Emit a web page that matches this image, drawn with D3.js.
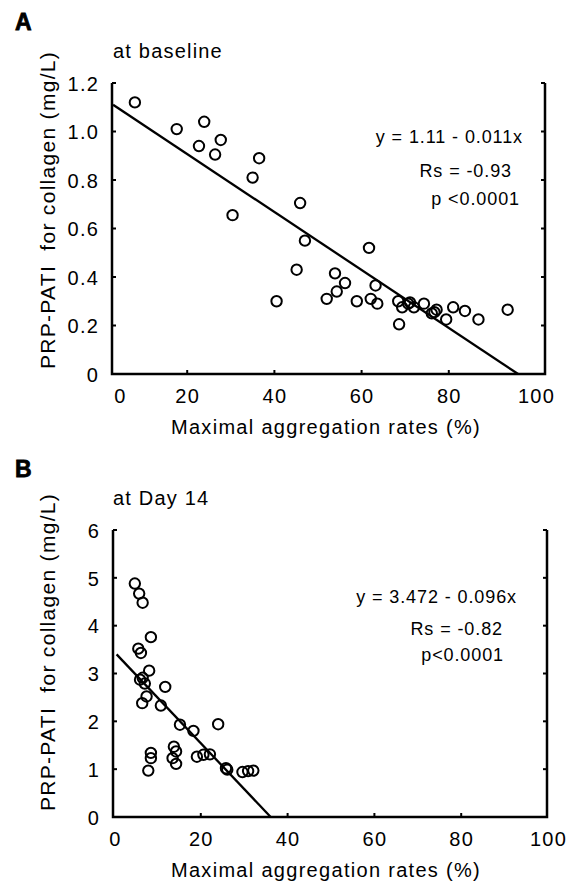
<!DOCTYPE html>
<html>
<head>
<meta charset="utf-8">
<script src="https://cdn.jsdelivr.net/npm/d3@7"></script>
<style>
  body { margin: 0; background: #fff; }
  svg { display: block; }
  text { font-family: "Liberation Sans", Arial, Helvetica, sans-serif; fill: #000; }
</style>
</head>
<body>
<script>
// values: [maximal aggregation rate (%), PRP-PATI (mg/L)]
const baselinePoints = [
  [8.0, 1.12], [17.6, 1.01], [23.9, 1.04], [22.7, 0.94], [27.7, 0.965],
  [26.4, 0.905], [36.5, 0.89], [35.0, 0.81], [30.4, 0.655], [45.9, 0.705],
  [47.0, 0.55], [45.1, 0.43], [40.5, 0.3], [61.7, 0.52], [53.9, 0.415],
  [56.2, 0.375], [54.3, 0.34], [52.0, 0.31], [58.9, 0.3], [63.2, 0.365],
  [62.1, 0.31], [63.6, 0.29], [68.4, 0.3], [69.3, 0.275], [68.6, 0.205],
  [70.7, 0.29], [71.1, 0.295], [72.0, 0.275], [74.3, 0.29], [76.1, 0.25],
  [76.7, 0.255], [77.2, 0.265], [79.4, 0.225], [81.0, 0.275], [83.7, 0.26],
  [86.8, 0.225], [93.5, 0.265]
];
const day14Points = [
  [4.8, 4.88], [5.8, 4.67], [6.6, 4.48], [8.5, 3.76], [5.6, 3.52],
  [6.2, 3.43], [8.1, 3.06], [6.6, 2.91], [6.0, 2.87], [7.1, 2.79],
  [7.5, 2.52], [6.5, 2.38], [11.8, 2.72], [10.8, 2.33], [15.2, 1.93],
  [18.3, 1.8], [24.0, 1.94], [8.5, 1.34], [8.5, 1.23], [7.9, 0.97],
  [13.8, 1.47], [14.3, 1.37], [13.5, 1.23], [14.3, 1.11], [19.1, 1.26],
  [20.6, 1.3], [22.1, 1.31], [25.8, 1.02], [26.1, 0.99], [29.6, 0.94],
  [30.9, 0.96], [32.1, 0.97]
];
// fitted lines, drawn between the end points seen on the figure
const baselineFit = [[3.0, 1.11], [95.9, 0]];
const day14Fit = [[0.6, 3.4], [36.1, 0]];

const xTicks = [0, 20, 40, 60, 80, 100];
const baselineYTicks = [0, 0.2, 0.4, 0.6, 0.8, 1.0, 1.2];
const day14YTicks = [0, 1, 2, 3, 4, 5, 6];

const baselineStats = ["y = 1.11 - 0.011x", "Rs = -0.93", "p <0.0001"];
const day14Stats = ["y = 3.472 - 0.096x", "Rs = -0.82", "p<0.0001"];

const xTitle = "Maximal aggregation rates (%)";
const yTitle = "PRP-PATI  for collagen (mg/L)";

const width = 572;
const height = 883;

const svg = d3
  .select("body")
  .append("svg")
  .attr("width", width)
  .attr("height", height);

const drawPanel = (cfg) => {
  const x = d3.scaleLinear().domain([0, 100]).range(cfg.xRange);
  const y = d3.scaleLinear().domain(cfg.yDomain).range(cfg.yRange);
  const g = svg.append("g");

  // panel letter and subtitle
  g.append("text")
    .attr("x", 15)
    .attr("y", cfg.letterY)
    .attr("font-size", 23)
    .attr("font-weight", 900)
    .style("stroke", "#000")
    .style("stroke-width", 0.8)
    .text(cfg.letter);

  g.append("text")
    .attr("x", 113)
    .attr("y", cfg.subtitleY)
    .attr("font-size", 20)
    .style("letter-spacing", "1.2px")
    .text(cfg.subtitle);

  // frame: left, bottom, right (open at top)
  const [y0, y1] = cfg.yRange;
  g.append("path")
    .attr("d", `M${cfg.left},${y1} V${y0} H${cfg.right} V${y1}`)
    .attr("fill", "none")
    .attr("stroke", "#000")
    .attr("stroke-width", 2.5);

  // inward tick marks
  const yTickVals = cfg.yTicks;
  g.append("g")
    .selectAll("line")
    .data(yTickVals)
    .enter()
    .append("line")
    .attr("x1", cfg.left)
    .attr("x2", cfg.left + 4)
    .attr("y1", (d) => y(d))
    .attr("y2", (d) => y(d))
    .attr("stroke", "#000")
    .attr("stroke-width", 2);
  g.append("g")
    .selectAll("line")
    .data(yTickVals)
    .enter()
    .append("line")
    .attr("x1", cfg.right)
    .attr("x2", cfg.right - 4)
    .attr("y1", (d) => y(d))
    .attr("y2", (d) => y(d))
    .attr("stroke", "#000")
    .attr("stroke-width", 2);
  g.append("g")
    .selectAll("line")
    .data(xTicks.filter((d) => d > 0 && d < 100))
    .enter()
    .append("line")
    .attr("x1", (d) => x(d))
    .attr("x2", (d) => x(d))
    .attr("y1", y0)
    .attr("y2", y0 - 4)
    .attr("stroke", "#000")
    .attr("stroke-width", 2);

  // tick labels via axes (lines removed, labels kept)
  const yAxis = d3
    .axisLeft(y)
    .tickValues(yTickVals)
    .tickSize(0)
    .tickPadding(0)
    .tickFormat(cfg.yFormat);
  const yAxisG = g
    .append("g")
    .attr("transform", `translate(${cfg.left - 13},0)`)
    .call(yAxis);
  yAxisG.select(".domain").remove();
  yAxisG
    .selectAll("text")
    .attr("font-size", 20)
    .attr("font-family", null)
    .attr("dy", "0.36em")
    .style("letter-spacing", "1.2px");

  const xAxis = d3
    .axisBottom(x)
    .tickValues(xTicks)
    .tickSize(0)
    .tickPadding(0)
    .tickFormat(d3.format("d"));
  const xAxisG = g
    .append("g")
    .attr("transform", `translate(0,${y0 + 15})`)
    .call(xAxis);
  xAxisG.select(".domain").remove();
  xAxisG
    .selectAll("text")
    .attr("font-size", 20)
    .attr("font-family", null)
    .attr("dy", "0.71em")
    .attr("dx", (d) => (d === 0 ? cfg.zeroShift : 0))
    .style("letter-spacing", "1.2px");

  // axis titles
  g.append("text")
    .attr("x", 326)
    .attr("y", y0 + 60)
    .attr("text-anchor", "middle")
    .attr("font-size", 20)
    .style("letter-spacing", "1.3px")
    .text(xTitle);

  g.append("text")
    .attr("transform", `translate(55,${cfg.yTitleMid}) rotate(-90)`)
    .attr("text-anchor", "middle")
    .attr("font-size", 21)
    .style("letter-spacing", "1.3px")
    .style("white-space", "pre")
    .text(yTitle);

  // statistics text
  g.selectAll("text.stat")
    .data(cfg.stats)
    .enter()
    .append("text")
    .attr("class", "stat")
    .attr("x", (d, i) => cfg.statX[i])
    .attr("y", (d, i) => cfg.statY[i])
    .attr("text-anchor", "end")
    .attr("font-size", 18)
    .style("letter-spacing", "0.9px")
    .style("white-space", "pre")
    .text((d) => d);

  // regression line
  g.append("path")
    .datum(cfg.fit)
    .attr(
      "d",
      d3
        .line()
        .x((d) => x(d[0]))
        .y((d) => y(d[1]))
    )
    .attr("fill", "none")
    .attr("stroke", "#000")
    .attr("stroke-width", 2.3);

  // data points
  g.append("g")
    .selectAll("circle")
    .data(cfg.points)
    .enter()
    .append("circle")
    .attr("cx", (d) => x(d[0]))
    .attr("cy", (d) => y(d[1]))
    .attr("r", 5.2)
    .attr("fill", "none")
    .attr("stroke", "#000")
    .attr("stroke-width", 2);
};

drawPanel({
  letter: "A",
  letterY: 30,
  subtitle: "at baseline",
  subtitleY: 58,
  points: baselinePoints,
  fit: baselineFit,
  stats: baselineStats,
  statX: [523, 512, 520],
  statY: [143, 177, 205],
  xRange: [100, 536],
  left: 112,
  right: 545,
  yDomain: [0, 1.2],
  yRange: [374, 83],
  yTicks: baselineYTicks,
  yFormat: (d) => (d === 0 ? "0" : d.toFixed(1)),
  zeroShift: 20,
  yTitleMid: 210
});

drawPanel({
  letter: "B",
  letterY: 477,
  subtitle: "at Day 14",
  subtitleY: 505,
  points: day14Points,
  fit: day14Fit,
  stats: day14Stats,
  statX: [517, 503, 504],
  statY: [603, 635, 661],
  xRange: [114, 548],
  left: 113,
  right: 547,
  yDomain: [0, 6],
  yRange: [817, 530],
  yTicks: day14YTicks,
  yFormat: d3.format("d"),
  zeroShift: 1,
  yTitleMid: 652
});
</script>
</body>
</html>
